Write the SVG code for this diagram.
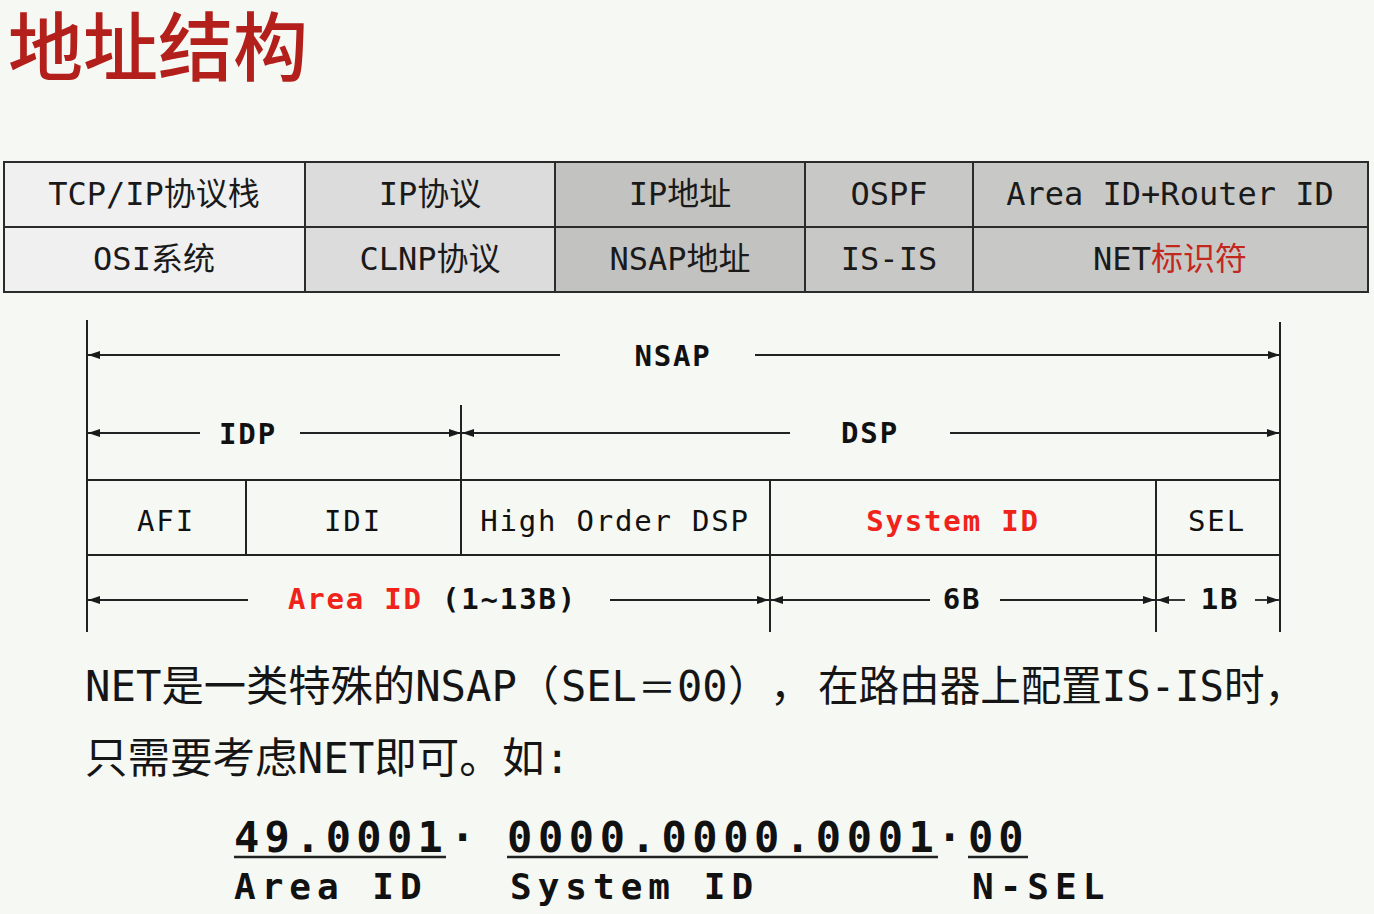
<svg xmlns="http://www.w3.org/2000/svg" width="1374" height="914" viewBox="0 0 1374 914">
<defs>
<marker id="ah" viewBox="0 0 12 8" refX="12" refY="4" markerWidth="12" markerHeight="8" markerUnits="userSpaceOnUse" orient="auto-start-reverse"><path d="M0,0 L12,4 L0,8 z" fill="#1a1a1a"/></marker>
<style>
.cjk{font-family:"DejaVu Sans Mono","Noto Sans CJK SC",monospace;}
.tt{font-family:"DejaVu Sans Mono","Noto Sans CJK SC",monospace;font-size:32px;fill:#1a1a1a;text-anchor:middle;}
.cell{stroke:#2b2b2b;stroke-width:2;}
.dl{stroke:#222;stroke-width:2;fill:none;}
.ar{stroke:#222;stroke-width:1.8;fill:none;}
.lb{font-family:"DejaVu Sans Mono",monospace;font-size:29px;letter-spacing:1.8px;fill:#111;text-anchor:middle;}
.b{font-weight:bold;}
.red{fill:#f0231b;}
.dred{fill:#c3281f;}
.net{font-family:"DejaVu Sans Mono",monospace;font-weight:bold;fill:#111;}
</style>
</defs>
<rect width="1374" height="914" fill="#f6f8f4"/>
<text x="8" y="75" style="font-family:'Noto Sans CJK SC',sans-serif;font-size:75px;font-weight:500;fill:#b3201b">地址结构</text>

<g id="table">
<g id="c11"><rect x="4" y="162" width="301" height="65" fill="#f0f0f0" class="cell"/><text x="154" y="205" class="tt">TCP/IP协议栈</text></g>
<g id="c12"><rect x="305" y="162" width="250" height="65" fill="#dcdcdc" class="cell"/><text x="430" y="205" class="tt">IP协议</text></g>
<g id="c13"><rect x="555" y="162" width="250" height="65" fill="#c2c3c1" class="cell"/><text x="680" y="205" class="tt">IP地址</text></g>
<g id="c14"><rect x="805" y="162" width="168" height="65" fill="#c8c9c6" class="cell"/><text x="889" y="205" class="tt">OSPF</text></g>
<g id="c15"><rect x="973" y="162" width="395" height="65" fill="#c8c9c6" class="cell"/><text x="1170" y="205" class="tt">Area ID+Router ID</text></g>
<g id="c21"><rect x="4" y="227" width="301" height="65" fill="#f0f0f0" class="cell"/><text x="154" y="270" class="tt">OSI系统</text></g>
<g id="c22"><rect x="305" y="227" width="250" height="65" fill="#dcdcdc" class="cell"/><text x="430" y="270" class="tt">CLNP协议</text></g>
<g id="c23"><rect x="555" y="227" width="250" height="65" fill="#c2c3c1" class="cell"/><text x="680" y="270" class="tt">NSAP地址</text></g>
<g id="c24"><rect x="805" y="227" width="168" height="65" fill="#c8c9c6" class="cell"/><text x="889" y="270" class="tt">IS-IS</text></g>
<g id="c25"><rect x="973" y="227" width="395" height="65" fill="#c8c9c6" class="cell"/><text x="1170" y="270" class="tt">NET<tspan class="dred">标识符</tspan></text></g>
</g>

<g id="frame">
<line x1="87" y1="320" x2="87" y2="632" class="dl"/>
<line x1="1280" y1="322" x2="1280" y2="632" class="dl"/>
<line x1="461" y1="405" x2="461" y2="555" class="dl"/>
<line x1="770" y1="480" x2="770" y2="632" class="dl"/>
<line x1="1156" y1="480" x2="1156" y2="632" class="dl"/>
<line x1="246" y1="480" x2="246" y2="555" class="dl"/>
<line x1="87" y1="480" x2="1280" y2="480" class="dl"/>
<line x1="87" y1="555" x2="1280" y2="555" class="dl"/>
</g>

<g id="fields">
<g id="afi"><text x="166" y="531" class="lb">AFI</text></g>
<g id="idi"><text x="353" y="531" class="lb">IDI</text></g>
<g id="hodsp"><text x="615" y="531" class="lb">High Order DSP</text></g>
<g id="sysid"><text x="953" y="531" class="lb b red">System ID</text></g>
<g id="sel"><text x="1217" y="531" class="lb">SEL</text></g>
</g>

<g id="connectors">
<line x1="560" y1="355" x2="88" y2="355" class="ar" marker-end="url(#ah)"/>
<line x1="755" y1="355" x2="1280" y2="355" class="ar" marker-end="url(#ah)"/>
<line x1="200" y1="433" x2="88" y2="433" class="ar" marker-end="url(#ah)"/>
<line x1="300" y1="433" x2="461" y2="433" class="ar" marker-end="url(#ah)"/>
<line x1="790" y1="433" x2="462" y2="433" class="ar" marker-end="url(#ah)"/>
<line x1="950" y1="433" x2="1279" y2="433" class="ar" marker-end="url(#ah)"/>
<line x1="248" y1="600" x2="88" y2="600" class="ar" marker-end="url(#ah)"/>
<line x1="610" y1="600" x2="769" y2="600" class="ar" marker-end="url(#ah)"/>
<line x1="930" y1="600" x2="771" y2="600" class="ar" marker-end="url(#ah)"/>
<line x1="1000" y1="600" x2="1155" y2="600" class="ar" marker-end="url(#ah)"/>
<line x1="1185" y1="600" x2="1157" y2="600" class="ar" marker-end="url(#ah)"/>
<line x1="1255" y1="600" x2="1279" y2="600" class="ar" marker-end="url(#ah)"/>
</g>

<g id="dimlabels">
<text x="673" y="366" class="lb b">NSAP</text>
<text x="248" y="444" class="lb b">IDP</text>
<text x="870" y="443" class="lb b">DSP</text>
<text x="288" y="609" class="lb b" style="text-anchor:start"><tspan class="red">Area ID</tspan> (1~13B)</text>
<text x="962" y="609" class="lb b">6B</text>
<text x="1220" y="609" class="lb b">1B</text>
</g>

<g id="para" style="font-size:42px;fill:#151515">
<text y="701" class="cjk"><tspan x="85" textLength="432" lengthAdjust="spacingAndGlyphs">NET是一类特殊的NSAP</tspan><tspan x="517">（</tspan><tspan x="561">SEL</tspan><tspan x="638" style="font-size:38px">＝</tspan><tspan x="677">00</tspan><tspan x="728">）</tspan><tspan x="770">，</tspan><tspan x="818" textLength="487" lengthAdjust="spacingAndGlyphs">在路由器上配置IS-IS时，</tspan></text>
<text x="85" y="773" class="cjk" textLength="485" lengthAdjust="spacingAndGlyphs">只需要考虑NET即可。如:</text>
</g>

<g id="example">
<text x="234" y="852" class="net" style="font-size:42px;letter-spacing:5.3px">49.0001</text>
<text x="450" y="852" class="net" style="font-size:42px">·</text>
<text x="507" y="852" class="net" style="font-size:42px;letter-spacing:5.6px">0000.0000.0001</text>
<text x="937" y="852" class="net" style="font-size:42px">·</text>
<text x="968" y="852" class="net" style="font-size:42px;letter-spacing:5px">00</text>
<line x1="234" y1="857" x2="446" y2="857" stroke="#222" stroke-width="2.5"/>
<line x1="507" y1="857" x2="938" y2="857" stroke="#222" stroke-width="2.5"/>
<line x1="968" y1="857" x2="1028" y2="857" stroke="#222" stroke-width="2.5"/>
<text x="234" y="899" class="net" style="font-size:36px;letter-spacing:6px">Area ID</text>
<text x="510" y="899" class="net" style="font-size:36px;letter-spacing:6px">System ID</text>
<text x="972" y="899" class="net" style="font-size:36px;letter-spacing:6px">N-SEL</text>
</g>
</svg>
